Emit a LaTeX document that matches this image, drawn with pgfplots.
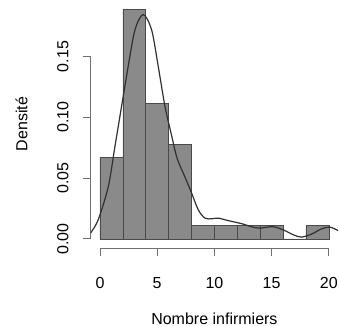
\documentclass[border=0pt]{standalone}
\usepackage{pgfplots}
\pgfplotsset{compat=1.18}
\usepackage{fontspec}
\setmainfont{Liberation Sans}
\definecolor{barfill}{HTML}{8A8A8A}
\definecolor{baredge}{HTML}{4A4A4A}
\definecolor{curve}{HTML}{303030}
\definecolor{axisgray}{HTML}{707070}
\begin{document}
\begin{tikzpicture}[x=1bp,y=1bp]
\path[use as bounding box] (-90.8,-78) rectangle (248.2,248);
\begin{axis}[
  at={(0,0)}, anchor=south west,
  scale only axis, width=247.2bp, height=248bp,
  xmin=-0.8, xmax=20.8, ymin=-0.00756, ymax=0.19645,
  axis x line=bottom, axis y line=left,
  axis line style={draw=none},
  tick align=outside, major tick length=7.7bp,
  tick style={axisgray, line width=0.7bp},
  xtick={0,5,10,15,20}, ytick={0,0.05,0.1,0.15},
  font=\fontsize{16bp}{19bp}\selectfont,
  /pgf/number format/assume math mode=true,
  yticklabel={\pgfmathprintnumber[fixed,fixed zerofill,precision=2]{\tick}},
  yticklabel style={rotate=90, anchor=base, yshift=14.7bp},
  xticklabel style={anchor=base, yshift=-32.3bp},
  xlabel={Nombre infirmiers}, ylabel={Densité},
  xlabel style={at={(axis description cs:0.5,0)}, anchor=base, yshift=-76bp},
  ylabel style={at={(axis description cs:0,0.5)}, anchor=base, yshift=63.5bp},
  clip=false,
]
\draw[axisgray, line width=0.7bp] (axis cs:0,-0.00756) -- (axis cs:20,-0.00756);
\draw[axisgray, line width=0.7bp] (axis cs:-0.8,0) -- (axis cs:-0.8,0.15);
\addplot[ybar interval, fill=barfill, draw=baredge, line width=0.6bp] coordinates {
(0,0.06667) (2,0.18889) (4,0.11111) (6,0.07778) (8,0.01111) (10,0.01111) (12,0.01111) (14,0.01111) (16,0) (18,0.01111) (20,0.01111)};
\addplot[curve, line width=1.2bp, smooth, tension=0.5] coordinates {
(-0.8,0.0050) (-0.15,0.0157) (0.73,0.043) (1.31,0.076) (1.89,0.109) (2.47,0.142) (3.06,0.172) (3.78,0.1845) (4.51,0.172) (5.09,0.142) (5.68,0.109) (6.26,0.085) (6.75,0.066) (7.42,0.051) (8.01,0.0376) (8.59,0.0239) (9.17,0.017) (9.8,0.0165) (10.33,0.017) (11.2,0.015) (12.4,0.0124) (13.3,0.0098) (13.97,0.0088) (15.1,0.0100) (16.0,0.0074) (16.9,0.0033) (17.6,0.0014) (18.5,0.0039) (19.36,0.0082) (20.1,0.0096) (20.8,0.0068)};
\end{axis}
\end{tikzpicture}
\end{document}
